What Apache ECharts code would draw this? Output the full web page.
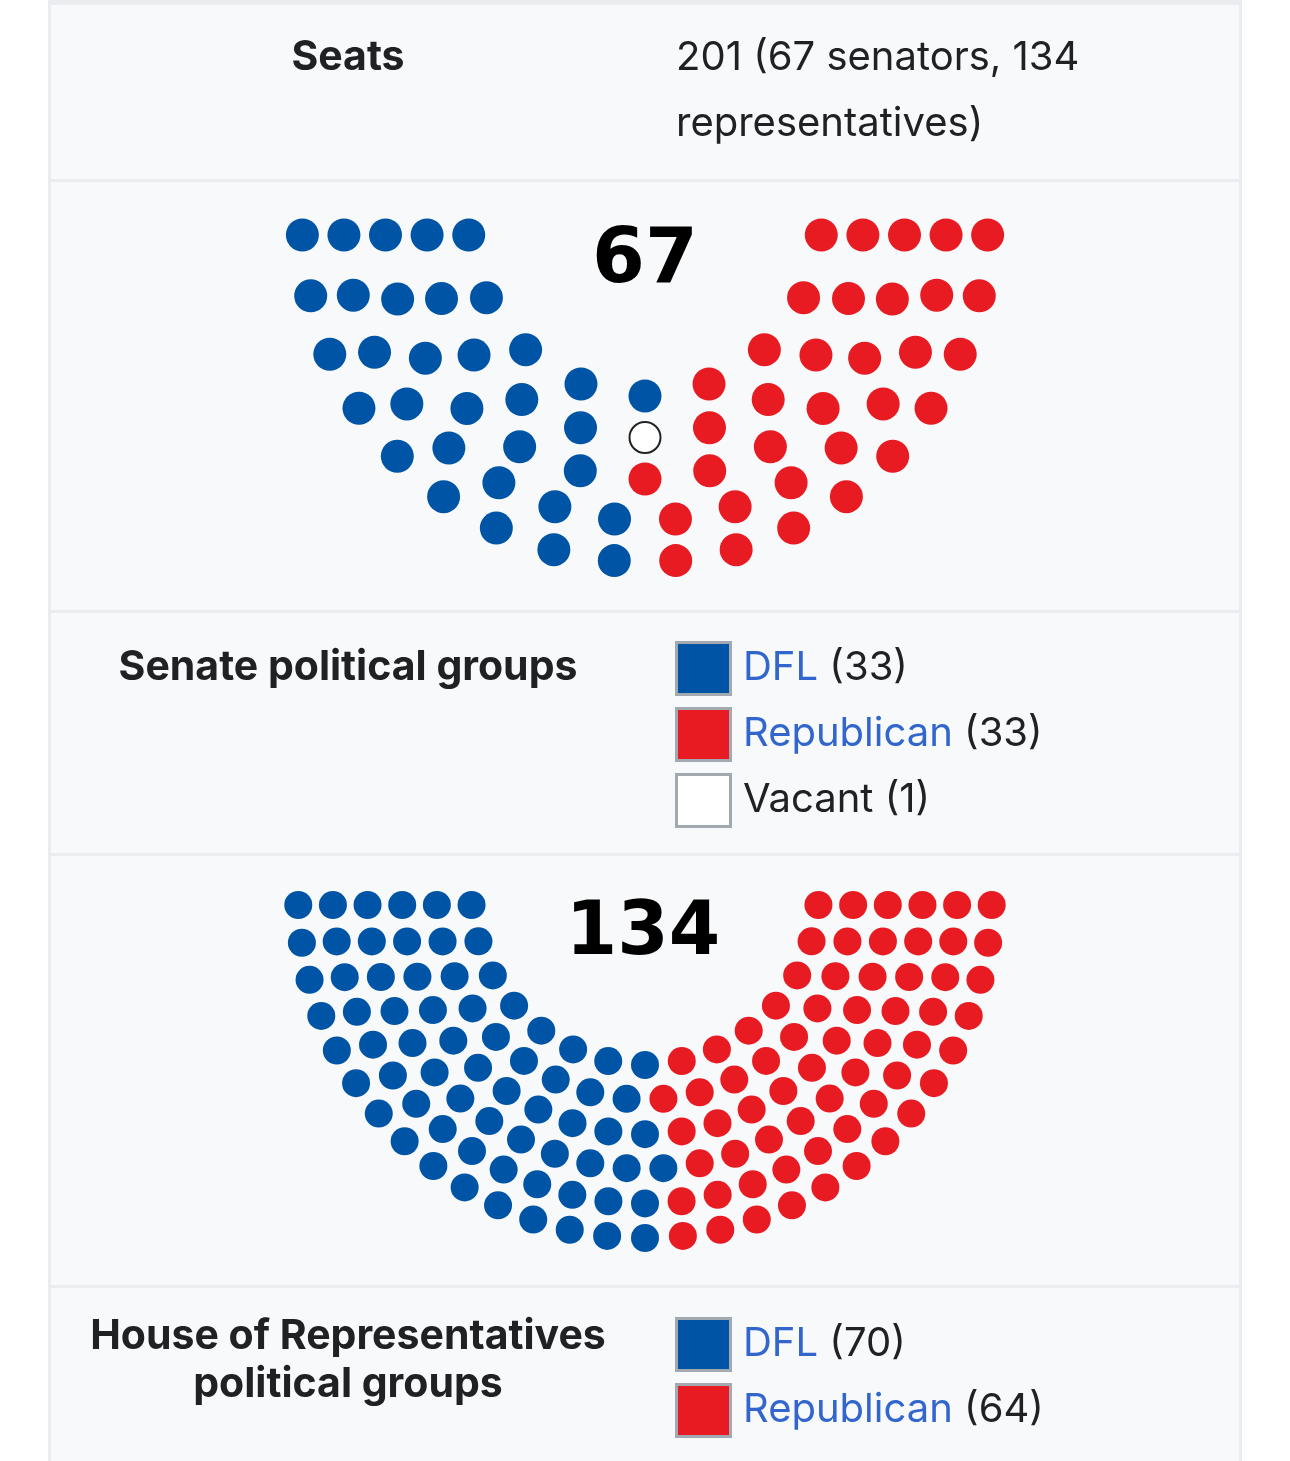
<!DOCTYPE html>
<html>
<head>
<meta charset="utf-8">
<title>Minnesota Legislature seats</title>
<script src="https://cdn.jsdelivr.net/npm/echarts@6/dist/echarts.min.js"></script>
<style>
  html, body { margin: 0; padding: 0; background: #ffffff; }
  #chart { width: 1290px; height: 1461px; }
</style>
</head>
<body>
<div id="chart"></div>
<script>
// seat counts read from the infobox
var senateParties = ["DFL", "Republican", "Vacant"];
var senateSeats = [33, 33, 1];
var senateOrder = ["DFL", "Vacant", "Republican"]; // left to right in the chamber
var senateRows = [9, 11, 13, 16, 18]; // seats per row, inner to outer

var houseParties = ["DFL", "Republican"];
var houseSeats = [70, 64];
var houseOrder = ["DFL", "Republican"];
var houseRows = [15, 18, 21, 24, 27, 29];

var seatsTotalText = ["201 (67 senators, 134", "representatives)"];

var colors = { DFL: "#0054a5", Republican: "#e81b23", Vacant: "#ffffff" };
var textColor = "#202122";
var linkColor = "#3366cc";
var sans = "Inter, 'Noto Sans', sans-serif";
var fontSize = 40;

// arc layout: each row is a half ring, seats spread evenly, then sorted by angle
function seatPositions(rows, innerR, gap, endDrop) {
  var seats = [];
  rows.forEach(function (n, i) {
    var r = innerR + i * gap;
    var a0 = (Math.asin(endDrop / r) * 180) / Math.PI;
    var step = (180 - 2 * a0) / (n - 1);
    for (var k = 0; k < n; k++) {
      seats.push([r, a0 + k * step]);
    }
  });
  seats.sort(function (a, b) {
    if (Math.abs(a[1] - b[1]) < 1e-6) return a[0] - b[0];
    return a[1] - b[1];
  });
  return seats;
}

function chamberSeries(polarIndex, seats, order, parties, counts, size) {
  var out = [];
  var pos = 0;
  order.forEach(function (name) {
    var n = counts[parties.indexOf(name)];
    var vacant = name === "Vacant";
    out.push({
      name: name,
      type: "scatter",
      coordinateSystem: "polar",
      polarIndex: polarIndex,
      symbol: "circle",
      symbolSize: vacant ? size - 2 : size,
      silent: true,
      itemStyle: {
        color: colors[name],
        borderColor: vacant ? "#222222" : colors[name],
        borderWidth: vacant ? 2 : 0,
        opacity: 1
      },
      data: seats.slice(pos, pos + n)
    });
    pos += n;
  });
  return out;
}

var senateSeatPos = seatPositions(senateRows, 177, 41.5, 16);
var houseSeatPos = seatPositions(houseRows, 174, 34.6, 14);

function hiddenAngle(i) {
  return {
    polarIndex: i, type: "value", min: 0, max: 360, startAngle: 180, clockwise: false,
    show: false, axisLine: { show: false }, axisTick: { show: false },
    axisLabel: { show: false }, splitLine: { show: false }
  };
}
function hiddenRadius(i) {
  return {
    polarIndex: i, type: "value", min: 0, max: 400,
    show: false, axisLine: { show: false }, axisTick: { show: false },
    axisLabel: { show: false }, splitLine: { show: false }
  };
}

// infobox frame
var graphics = [
  { type: "rect", z: -10, shape: { x: 48, y: 0, width: 1194, height: 1461 }, style: { fill: "#eaecf0" } },
  { type: "rect", z: -9, shape: { x: 51, y: 5, width: 1188, height: 1456 }, style: { fill: "#f8f9fa" } }
];
[179, 610, 853, 1285].forEach(function (y) {
  graphics.push({ type: "rect", z: -8, shape: { x: 51, y: y, width: 1188, height: 3 }, style: { fill: "#eaecf0" } });
});

function label(text, x, y, opts) {
  opts = opts || {};
  return {
    type: "text",
    z: 5,
    style: {
      text: text,
      x: x,
      y: y,
      fill: opts.color || textColor,
      font: (opts.bold ? "bold " : "") + (opts.size || fontSize) + "px " + (opts.family || sans),
      textAlign: opts.align || "left",
      textVerticalAlign: "middle"
    }
  };
}

graphics.push(label("Seats", 348, 58, { bold: true, size: 41, align: "center" }));
seatsTotalText.forEach(function (t, i) {
  graphics.push(label(t, 676, 58 + i * 66));
});
graphics.push(label("67", 645, 262, { bold: true, size: 76, align: "center", family: "'DejaVu Sans'", color: "#000000" }));
graphics.push(label("134", 643, 935, { bold: true, size: 74, align: "center", family: "'DejaVu Sans'", color: "#000000" }));
graphics.push(label("Senate political groups", 348, 668, { bold: true, size: 41, align: "center" }));
graphics.push(label("House of Representatives", 348, 1337, { bold: true, size: 41, align: "center" }));
graphics.push(label("political groups", 348, 1385, { bold: true, size: 41, align: "center" }));

function legendBlock(parties, counts, top) {
  parties.forEach(function (name, i) {
    var y = top + i * 66;
    graphics.push({
      type: "rect",
      z: 5,
      shape: { x: 676.5, y: y + 1.5, width: 54, height: 52 },
      style: { fill: colors[name], stroke: "#a2a9b1", lineWidth: 3 }
    });
    var isLink = name !== "Vacant";
    graphics.push({
      type: "text",
      z: 5,
      style: {
        text: "{n|" + name + "}{c| (" + counts[i] + ")}",
        x: 743,
        y: y + 27,
        textAlign: "left",
        textVerticalAlign: "middle",
        rich: {
          n: { font: fontSize + "px " + sans, fill: isLink ? linkColor : textColor },
          c: { font: fontSize + "px " + sans, fill: textColor }
        }
      }
    });
  });
}
legendBlock(senateParties, senateSeats, 641);
legendBlock(houseParties, houseSeats, 1317);

var myChart = echarts.init(document.getElementById("chart"), null, { renderer: "canvas" });
var option = {
  backgroundColor: "#ffffff",
  animation: false,
  polar: [
    { center: [645, 219], radius: 400 },
    { center: [645, 891], radius: 400 }
  ],
  angleAxis: [hiddenAngle(0), hiddenAngle(1)],
  radiusAxis: [hiddenRadius(0), hiddenRadius(1)],
  graphic: graphics,
  series: chamberSeries(0, senateSeatPos, senateOrder, senateParties, senateSeats, 33).concat(
    chamberSeries(1, houseSeatPos, houseOrder, houseParties, houseSeats, 28)
  )
};
myChart.setOption(option);
</script>
</body>
</html>
